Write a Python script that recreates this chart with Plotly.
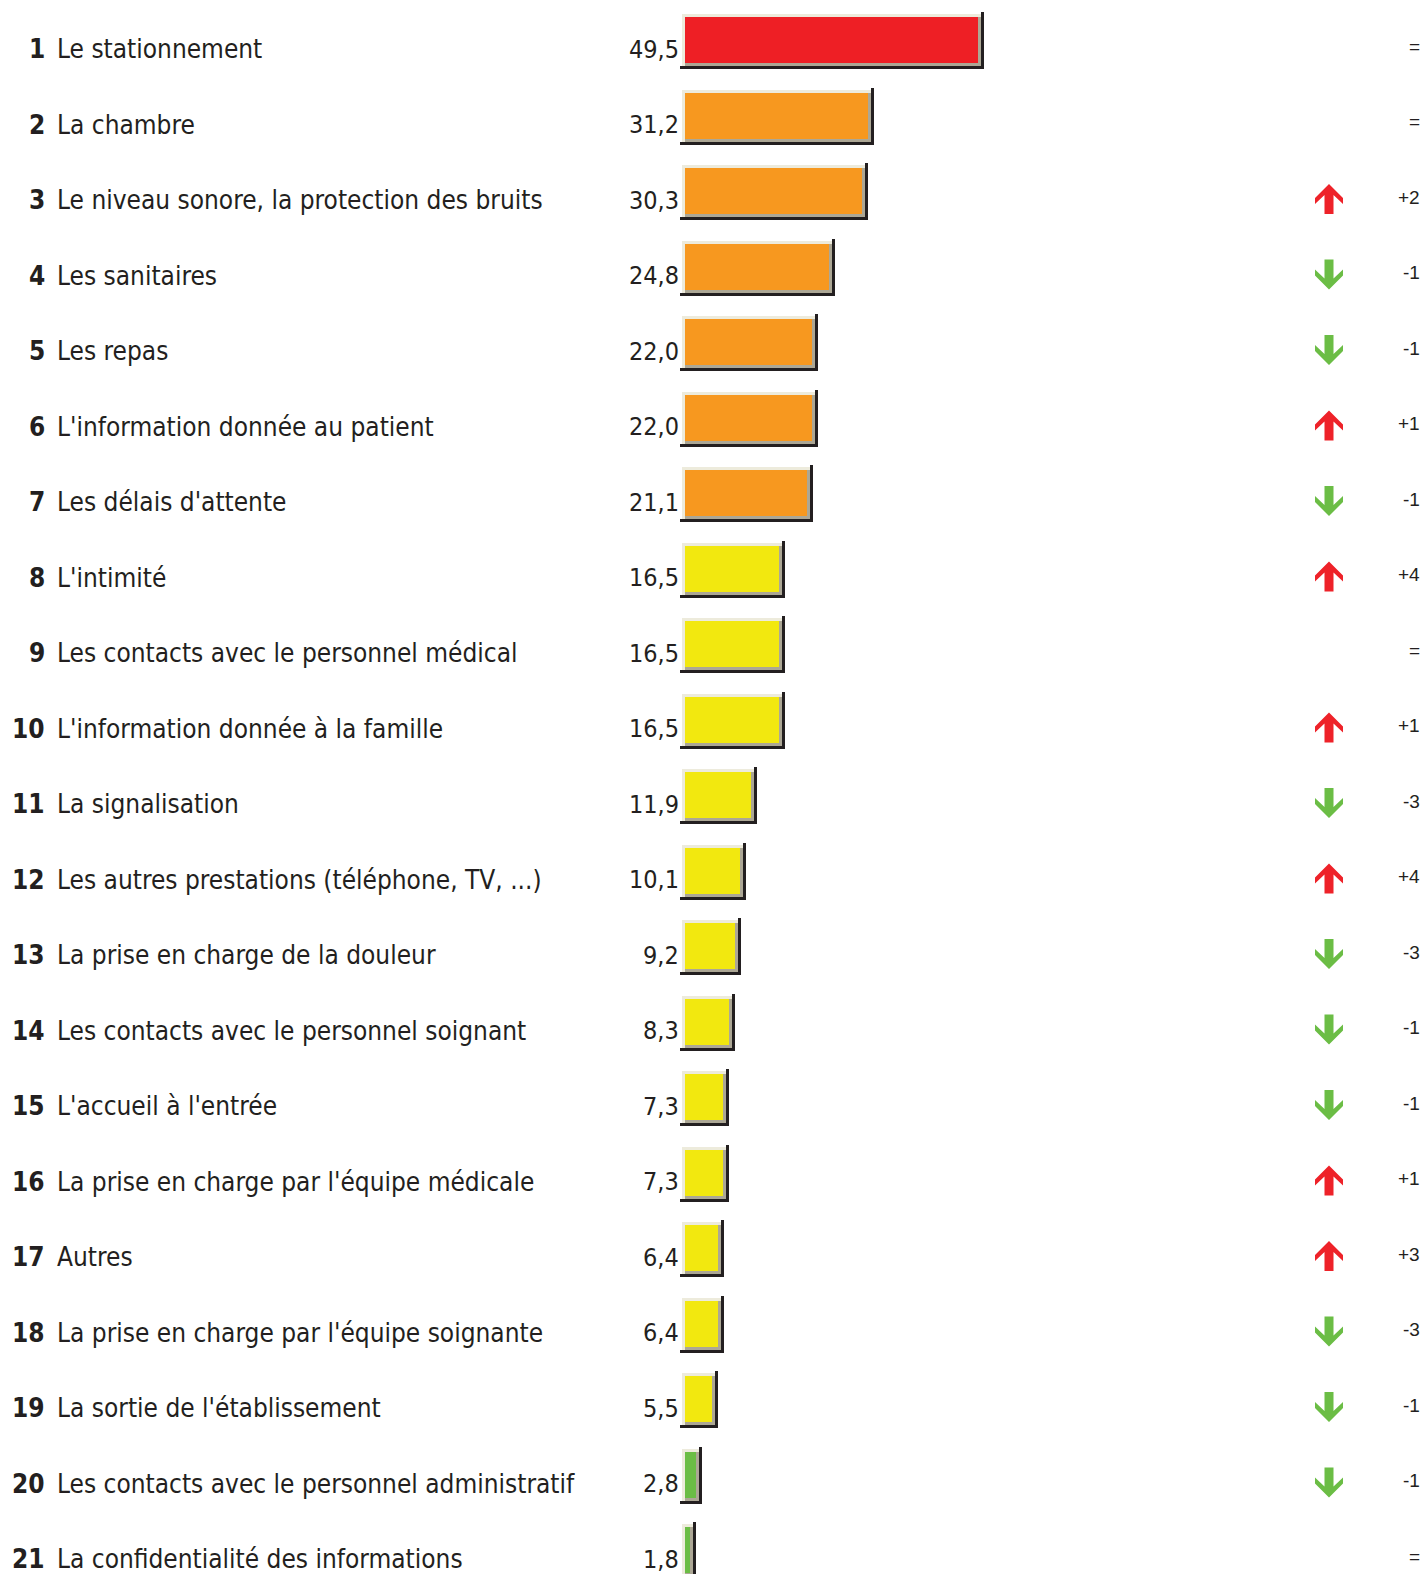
import plotly.graph_objects as go

# ---------------- data ----------------
ranks = list(range(1, 22))
labels = [
    "Le stationnement",
    "La chambre",
    "Le niveau sonore, la protection des bruits",
    "Les sanitaires",
    "Les repas",
    "L'information donnée au patient",
    "Les délais d'attente",
    "L'intimité",
    "Les contacts avec le personnel médical",
    "L'information donnée à la famille",
    "La signalisation",
    "Les autres prestations (téléphone, TV, ...)",
    "La prise en charge de la douleur",
    "Les contacts avec le personnel soignant",
    "L'accueil à l'entrée",
    "La prise en charge par l'équipe médicale",
    "Autres",
    "La prise en charge par l'équipe soignante",
    "La sortie de l'établissement",
    "Les contacts avec le personnel administratif",
    "La confidentialité des informations",
]
values = [49.5, 31.2, 30.3, 24.8, 22.0, 22.0, 21.1, 16.5, 16.5, 16.5, 11.9,
          10.1, 9.2, 8.3, 7.3, 7.3, 6.4, 6.4, 5.5, 2.8, 1.8]
changes = ["=", "=", "+2", "-1", "-1", "+1", "-1", "+4", "=", "+1", "-3",
           "+4", "-3", "-1", "-1", "+1", "+3", "-3", "-1", "-1", "="]

# ---------------- layout constants (pixels) ----------------
W, H = 1424, 1574
X0_PX = 682          # pixel position of value 0
SCALE = 6.05         # pixels per unit
ROW0_PX = 40         # centre of first bar
ROW_STEP = 75.5      # row spacing
PX = 1.0 / SCALE     # x data units per pixel
PY = 1.0 / ROW_STEP  # y data units per pixel
TEXT_DY = 9 * PY     # text sits slightly lower than bar centre

TXT = "#231F20"
LABEL_FONT = "DejaVu Sans Condensed, DejaVu Sans"
SMALL_FONT = "Liberation Sans, Arial"


def bar_color(v):
    if v >= 40:
        return "#EE1F25"
    if v >= 20:
        return "#F7981F"
    if v >= 5:
        return "#F2E80F"
    return "#6BBD45"


def px_x(p):
    return (p - X0_PX) * PX


n = len(values)
ypos = list(range(n))
colors = [bar_color(v) for v in values]

fig = go.Figure()


def add_bar(base, length, offset, width, color):
    fig.add_trace(go.Bar(
        orientation="h", y=ypos, x=length, base=base,
        offset=offset, width=width,
        marker=dict(color=color, line=dict(width=0)),
        hoverinfo="skip", showlegend=False,
    ))


# black shadow bottom
add_bar([-2 * PX] * n, [v + 5 * PX for v in values], 26 * PY, 3 * PY, "#231F20")
# black shadow right
add_bar(values, [3 * PX] * n, -28 * PY, 57 * PY, "#231F20")
# light bevel (top/left)
add_bar([0] * n, values, -26 * PY, 52 * PY, "#EDEBDC")
# dark bevel (bottom/right)
add_bar([3 * PX] * n, [v - 3 * PX for v in values], -23 * PY, 49 * PY, "#ACA795")
# fill
add_bar([3 * PX] * n, [v - 6 * PX for v in values], -23 * PY, 46 * PY, colors)

annotations = []
shapes = []
for i, (r, lab, v, ch) in enumerate(zip(ranks, labels, values, changes)):
    yt = i + TEXT_DY
    annotations.append(dict(
        x=px_x(47), y=yt, xref="x", yref="y", xanchor="right", yanchor="middle",
        text="<b>%d</b>" % r, showarrow=False,
        font=dict(family=LABEL_FONT, size=26, color=TXT)))
    annotations.append(dict(
        x=px_x(55), y=yt, xref="x", yref="y", xanchor="left", yanchor="middle",
        text=lab, showarrow=False,
        font=dict(family=LABEL_FONT, size=26, color=TXT)))
    annotations.append(dict(
        x=px_x(681), y=yt, xref="x", yref="y", xanchor="right", yanchor="middle",
        text=("%.1f" % v).replace(".", ","), showarrow=False,
        font=dict(family=LABEL_FONT, size=25, color=TXT)))
    annotations.append(dict(
        x=px_x(1422), y=i + 6 * PY, xref="x", yref="y", xanchor="right", yanchor="middle",
        text=ch, showarrow=False,
        font=dict(family=SMALL_FONT, size=19, color=TXT)))
    if ch.startswith("+"):
        path = "M0,15 L14,1 L14,-5 L4.5,4 L4.5,-15 L-4.5,-15 L-4.5,4 L-14,-5 L-14,1 Z"
        col = "#EE2229"
    elif ch.startswith("-"):
        path = "M0,-15 L14,-1 L14,5 L4.5,-4 L4.5,15 L-4.5,15 L-4.5,-4 L-14,5 L-14,-1 Z"
        col = "#6BBD45"
    else:
        continue
    shapes.append(dict(
        type="path", xref="x", yref="y", xsizemode="pixel", ysizemode="pixel",
        xanchor=px_x(1329), yanchor=i + 8 * PY, path=path,
        fillcolor=col, line=dict(width=0)))

fig.update_layout(
    width=W, height=H,
    margin=dict(l=0, r=0, t=0, b=0),
    paper_bgcolor="white", plot_bgcolor="white",
    barmode="overlay", bargap=0,
    xaxis=dict(range=[-X0_PX * PX, (W - X0_PX) * PX], visible=False, fixedrange=True),
    yaxis=dict(range=[(H - ROW0_PX) * PY, -ROW0_PX * PY], visible=False, fixedrange=True),
    annotations=annotations,
    shapes=shapes,
    showlegend=False,
)

fig.write_html(
    "out.html",
    config={"displayModeBar": False},
    post_script="document.body.style.margin='0';document.body.style.overflow='hidden';",
)
